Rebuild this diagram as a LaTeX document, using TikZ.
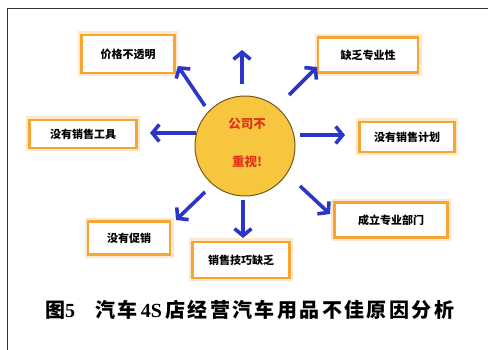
\documentclass[tikz,border=0pt]{standalone}
\usepackage{fontspec}
\newfontfamily\cjk{Noto Sans CJK SC}
\newfontfamily\cjkcap{Noto Sans CJK SC}[LetterSpace=12]
\setmainfont{Liberation Serif}
\usetikzlibrary{arrows.meta}
\definecolor{boxorange}{HTML}{F5A531}
\definecolor{arrowblue}{HTML}{2B35C8}
\definecolor{sunyellow}{HTML}{F8C63E}
\definecolor{redtext}{HTML}{E0331A}
\tikzset{
  reason/.style={draw=boxorange, line width=2.6pt, fill=white, inner sep=0pt,
    font=\cjk\bfseries\fontsize{11}{12}\selectfont, text=black},
  glow/.style={draw=boxorange!25, line width=7pt},
  spoke/.style={draw=arrowblue, line width=3.6pt, -{Straight Barb[length=7pt,width=17pt]}},
}
\begin{document}
\begin{tikzpicture}[x=1pt,y=-1pt]
\useasboundingbox (0,0) rectangle (488,350);
\fill[white] (0,0) rectangle (488,350);
\draw[black!80, line width=0.9pt] (7,350) -- (7,8) -- (488,8);

% centre
\node[circle, draw=black!55!sunyellow, line width=1pt, fill=sunyellow, minimum size=100pt, inner sep=0pt] (c) at (245,146) {};
\node[font=\cjk\bfseries\fontsize{12.5}{13}\selectfont, text=redtext] (c1) at (247,124) {公司不};
\node[font=\cjk\bfseries\fontsize{12.5}{13}\selectfont, text=redtext] (c2) at (247,162) {重视!};

% boxes
\foreach \n/\x/\y/\w/\h in {tl/128/54/93/38, tr/368/55/100/35, l/83/134/107/28, r/407/137/95/30, bl/129/238/82/33, b/241/260/97/36, br/391/220/113/35}{
  \path[glow] (\x-\w/2,\y-\h/2) rectangle (\x+\w/2,\y+\h/2);
}
\node[reason, minimum width=93pt, minimum height=38pt] (tl) at (128,54) {价格不透明};
\node[reason, minimum width=100pt, minimum height=35pt] (tr) at (368,55) {缺乏专业性};
\node[reason, minimum width=107pt, minimum height=28pt] (l) at (83,134) {没有销售工具};
\node[reason, minimum width=95pt, minimum height=30pt] (r) at (407,137) {没有销售计划};
\node[reason, minimum width=82pt, minimum height=33pt] (bl) at (129,238) {没有促销};
\node[reason, minimum width=97pt, minimum height=36pt] (b) at (241,260) {销售技巧缺乏};
\node[reason, minimum width=113pt, minimum height=35pt] (br) at (391,220) {成立专业部门};

% arrow end points
\coordinate (u0) at (242,84);   \coordinate (u1) at (242,50);
\coordinate (ul0) at (205,106); \coordinate (ul1) at (178,66);
\coordinate (ur0) at (289,95);  \coordinate (ur1) at (317,67);
\coordinate (w0) at (196,133);  \coordinate (w1) at (150,133);
\coordinate (e0) at (300,135);  \coordinate (e1) at (345,135);
\coordinate (sw0) at (205,192); \coordinate (sw1) at (176,220);
\coordinate (s0) at (243,200);  \coordinate (s1) at (243,238);
\coordinate (se0) at (300,186); \coordinate (se1) at (330,214);
\foreach \a in {u,ul,ur,w,e,sw,s,se}{ \draw[spoke] (\a0) -- (\a1); }

% caption
\node[font=\bfseries\fontsize{20}{21}\selectfont, anchor=west, inner sep=0pt] (cap) at (45,310)
  {{\cjkcap 图}5\hspace{1em}{\cjkcap 汽车}\,4S\,{\cjkcap 店经营汽车用品不佳原因分析}};
\end{tikzpicture}
\end{document}
